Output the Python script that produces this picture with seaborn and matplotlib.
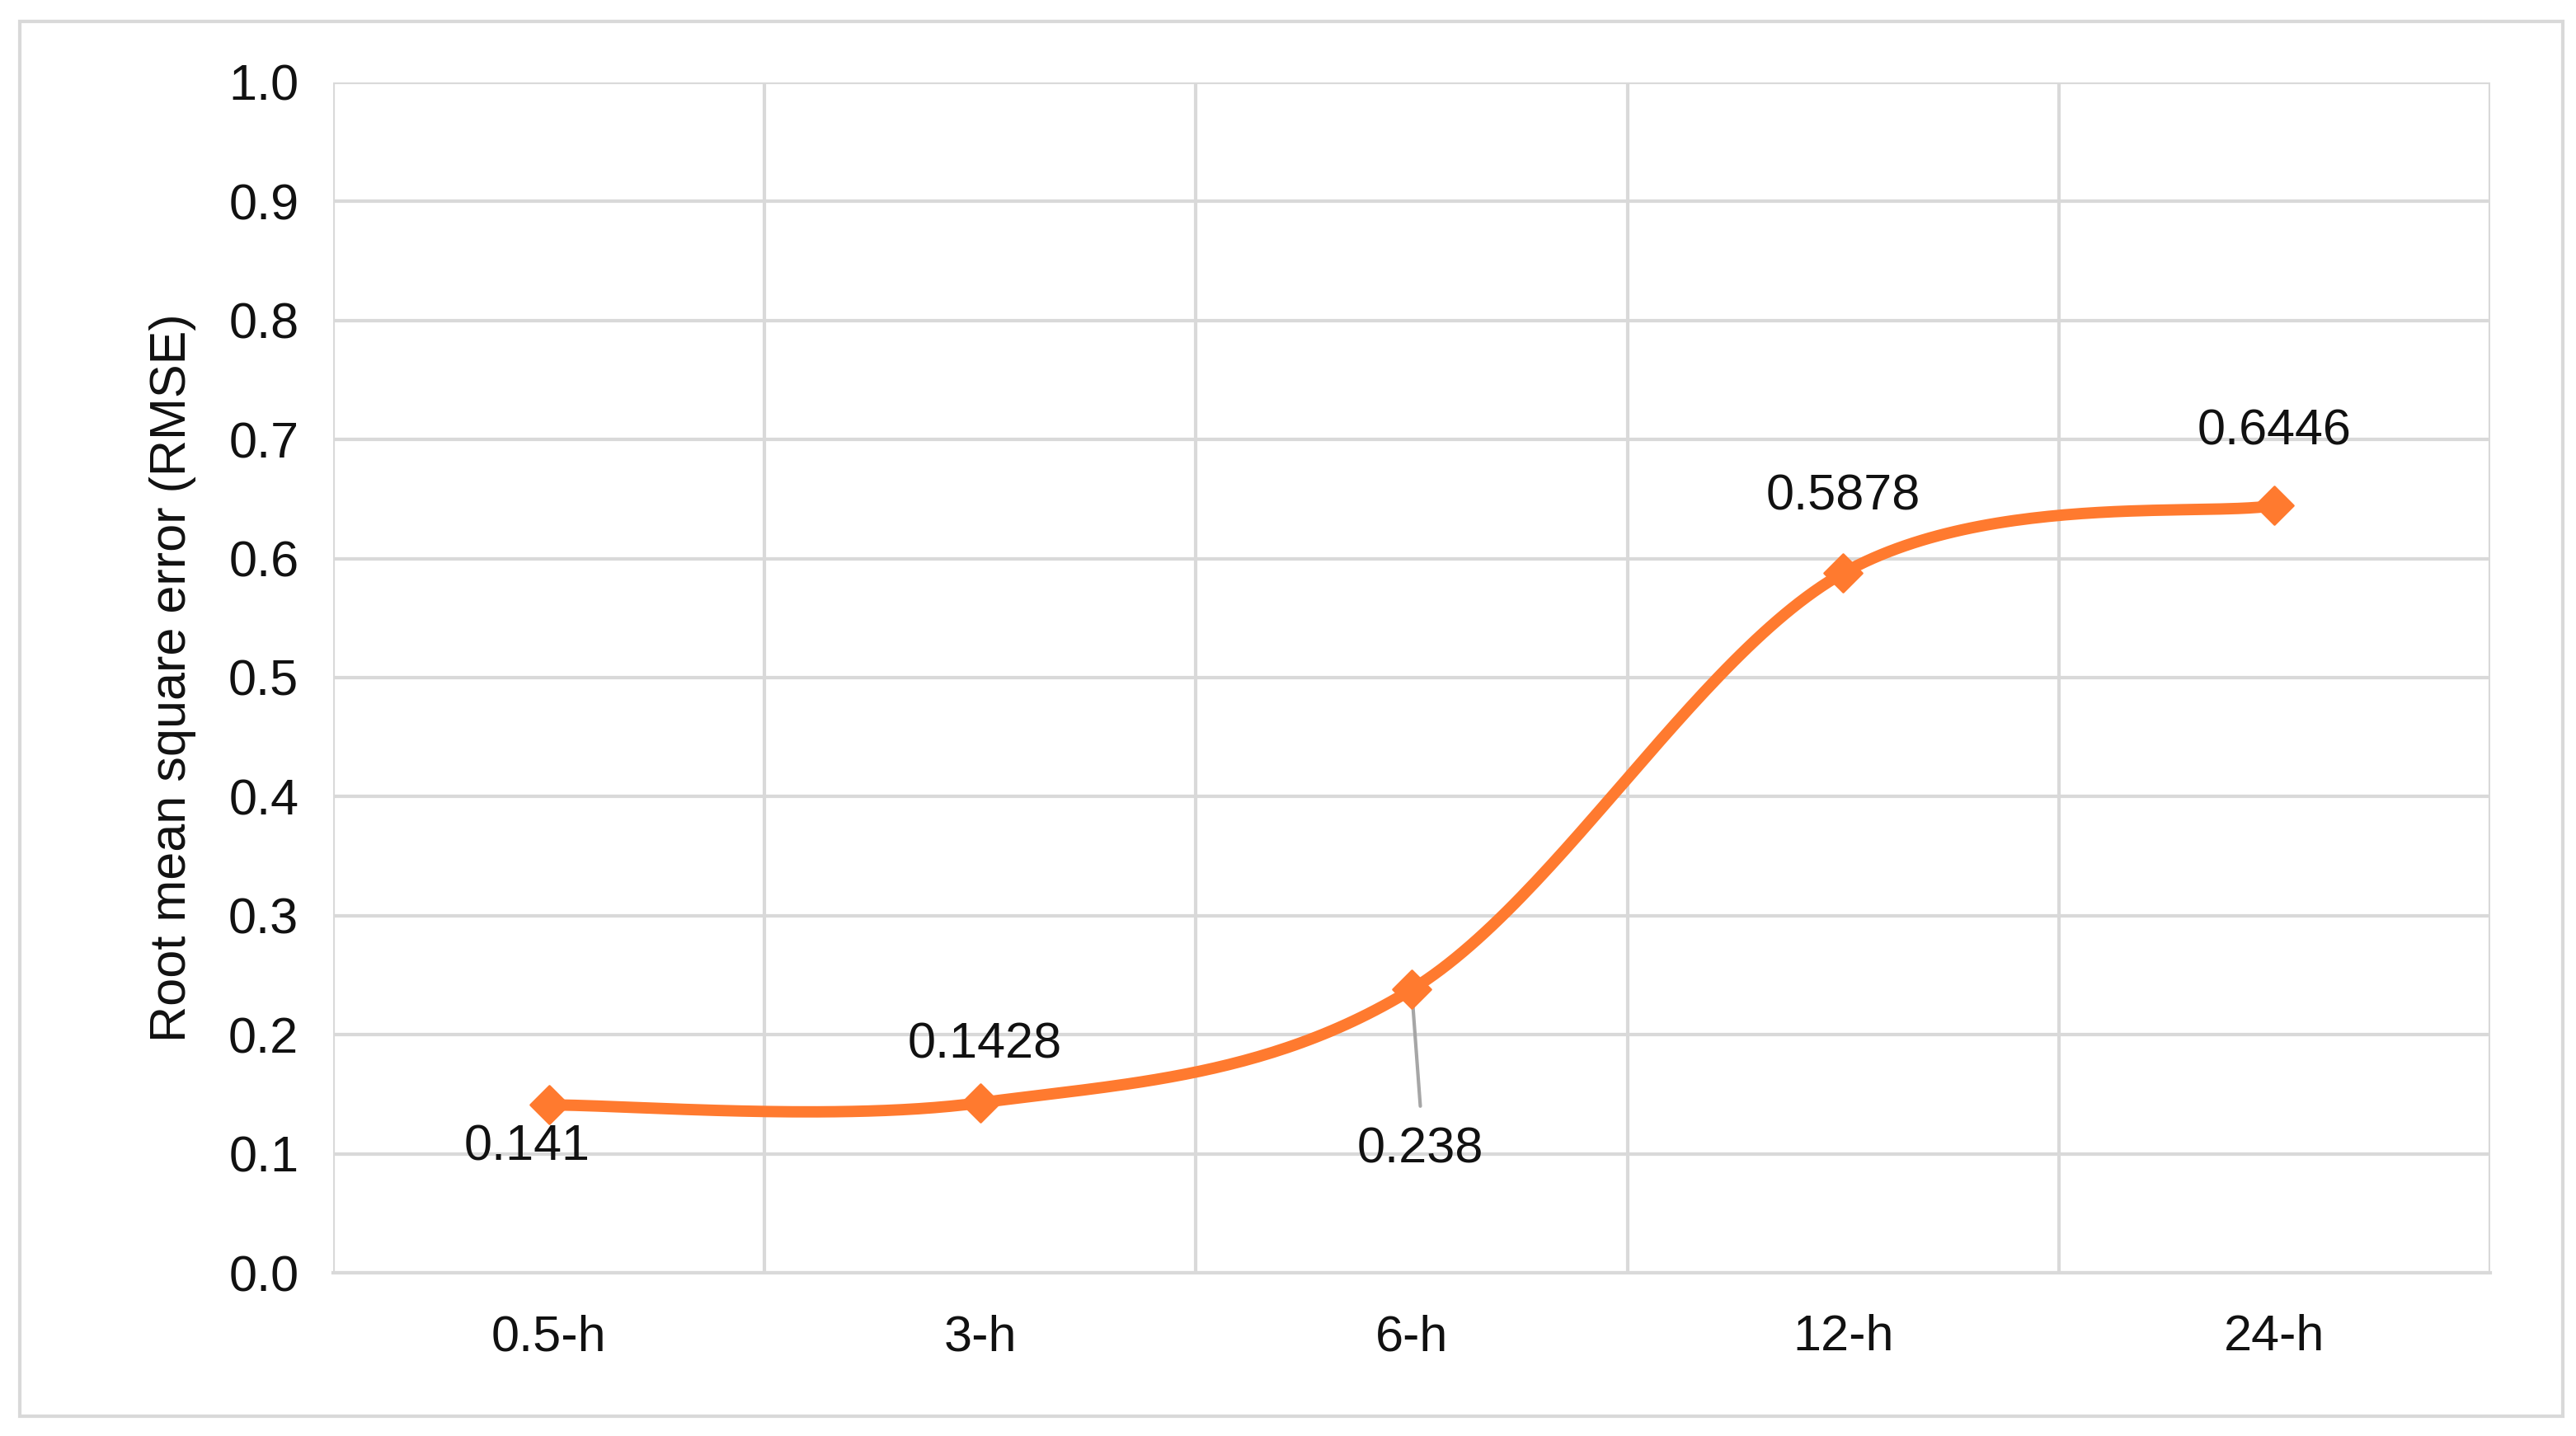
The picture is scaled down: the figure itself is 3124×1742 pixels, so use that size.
import numpy as np
import matplotlib
matplotlib.use("Agg")
import matplotlib.pyplot as plt
import seaborn as sns
from matplotlib.patches import Rectangle

horizons = ["0.5-h", "3-h", "6-h", "12-h", "24-h"]
rmse = [0.141, 0.1428, 0.238, 0.5878, 0.6446]
labels = ["0.141", "0.1428", "0.238", "0.5878", "0.6446"]

ORANGE = "#FF7A2F"
GRID = "#D9D9D9"
FS = 44

sns.set_theme(style="white")
plt.rcParams["font.family"] = ["Liberation Sans", "DejaVu Sans"]

fig = plt.figure(figsize=(31.24, 17.42), dpi=100)
ax = fig.add_axes([404 / 3124, 1 - 1544 / 1742, 2616 / 3124, 1444 / 1742])

# outer frame like the exported chart
fig.patches.append(Rectangle((24 / 3124, 24 / 1742), 3084 / 3124, 1692 / 1742,
                             transform=fig.transFigure, fill=False,
                             edgecolor=GRID, linewidth=3))

x = np.arange(len(horizons))
y = np.array(rmse)

# Excel-like smoothed line (Catmull-Rom between the data points)
px = np.concatenate([[x[0]], x, [x[-1]]])
py = np.concatenate([[y[0]], y, [y[-1]]])
t = np.linspace(0, 1, 60)
cx, cy = [], []
for i in range(1, len(px) - 2):
    p0, p1, p2, p3 = [np.array([px[j], py[j]]) for j in range(i - 1, i + 3)]
    b1 = p1 + (p2 - p0) / 6
    b2 = p2 - (p3 - p1) / 6
    pts = ((1 - t) ** 3)[:, None] * p1 + (3 * (1 - t) ** 2 * t)[:, None] * b1 \
        + (3 * (1 - t) * t ** 2)[:, None] * b2 + (t ** 3)[:, None] * p2
    cx.extend(pts[:, 0]); cy.extend(pts[:, 1])
ax.plot(cx, cy, color=ORANGE, linewidth=10, solid_capstyle="round", zorder=3)
sns.scatterplot(x=x, y=y, marker="D", s=550, color=ORANGE, edgecolor=ORANGE,
                ax=ax, zorder=4)

# data labels
offsets = [(-0.05, -0.036), (0.01, 0.048), (0.02, -0.135), (0.0, 0.064), (0.0, 0.062)]
for xi, yi, lab, (dx, dy) in zip(x, y, labels, offsets):
    ax.text(xi + dx, yi + dy, lab, ha="center", va="center", fontsize=FS, color="#111111")
ax.plot([2, 2.02], [0.238, 0.14], color="#A6A6A6", linewidth=3, zorder=2)

ax.set_xlim(-0.5, 4.5)
ax.set_ylim(0, 1.0)
ax.set_yticks(np.arange(0, 1.01, 0.1))
ax.set_yticklabels([f"{v:.1f}" for v in np.arange(0, 1.01, 0.1)])
ax.set_xticks(x)
ax.set_xticklabels(horizons)
for b in np.arange(-0.5, 4.6, 1):
    ax.axvline(b, color=GRID, linewidth=3, zorder=1)
ax.yaxis.grid(True, color=GRID, linewidth=3)
ax.set_axisbelow(True)
for s in ["top", "right", "left"]:
    ax.spines[s].set_visible(False)
ax.spines["bottom"].set_color(GRID)
ax.spines["bottom"].set_linewidth(3)
ax.tick_params(axis="both", labelsize=FS, colors="#111111", length=0, pad=30)
ax.tick_params(axis="x", pad=36)
ax.set_ylabel("Root mean square error (RMSE)", fontsize=FS, color="#111111", labelpad=28)

fig.savefig("out.png", dpi=100, facecolor="white")
